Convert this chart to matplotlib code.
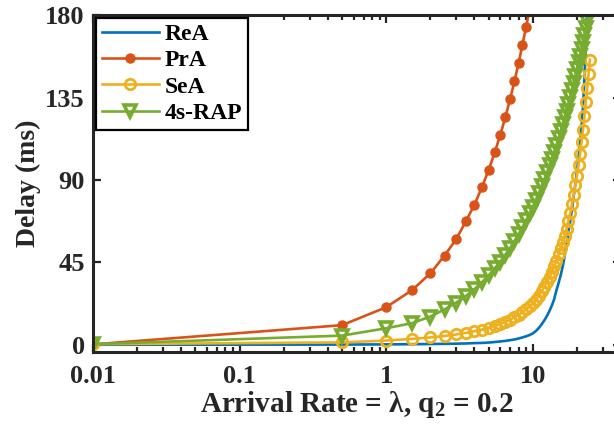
import numpy as np
import matplotlib
matplotlib.use("Agg")
import matplotlib.pyplot as plt
from matplotlib.ticker import FixedLocator, FixedFormatter, LogLocator, NullFormatter

plt.rcParams['font.family'] = ['Liberation Serif', 'DejaVu Serif']
plt.rcParams['font.weight'] = 'bold'
plt.rcParams['mathtext.fontset'] = 'custom'
plt.rcParams['mathtext.rm'] = 'Liberation Serif:bold'
plt.rcParams['mathtext.bf'] = 'Liberation Serif:bold'
plt.rcParams['mathtext.it'] = 'Liberation Serif:bold:italic'

# arrival rates (same 0.5 grid for all schemes, first point at 0.01)
lam_rea = [0.01, 0.5, 1, 1.5, 2, 2.5, 3, 3.5, 4, 4.5, 5, 5.5, 6, 6.5, 7, 7.5, 8, 8.5,
           9, 9.5, 10, 10.5, 11, 11.5, 12, 12.5, 13, 13.5, 14, 14.5, 15, 15.5, 16,
           16.5, 17, 17.5, 18, 18.5, 19, 19.5, 20, 20.5, 21, 21.5, 22, 22.5, 23, 23.5]
delay_rea = [0.0, 0.1, 0.2, 0.3, 0.4, 0.5, 0.6, 0.7, 0.9, 1.0, 1.2, 1.5, 1.8, 2.1, 2.5,
             2.9, 3.4, 4.0, 4.6, 5.3, 6.2, 7.5, 9.2, 11.2, 13.4, 15.8, 18.5, 21.5, 25.0,
             29.8, 33.8, 38.0, 42.8, 48.5, 55.0, 61.5, 67.5, 74.0, 81.0, 87.5, 94.5,
             102.0, 110.0, 119.0, 130.0, 145.0, 164.0, 188.0]

lam_pra = [0.01, 0.5, 1, 1.5, 2, 2.5, 3, 3.5, 4, 4.5, 5, 5.5, 6, 6.5, 7, 7.5, 8, 8.5,
           9, 9.5]
delay_pra = [0.2, 10.7, 20.5, 29.8, 39.0, 48.7, 57.6, 67.5, 76.5, 86.0, 95.5, 105.0,
             114.6, 124.3, 134.1, 144.0, 153.8, 163.9, 173.5, 183.0]

lam_sea = [0.01, 0.5, 1, 1.5, 2, 2.5, 3, 3.5, 4, 4.5, 5, 5.5, 6, 6.5, 7, 7.5, 8, 8.5,
           9, 9.5, 10, 10.5, 11, 11.5, 12, 12.5, 13, 13.5, 14, 14.5, 15, 15.5, 16,
           16.5, 17, 17.5, 18, 18.5, 19, 19.5, 20, 20.5, 21, 21.5, 22, 22.5, 23, 23.5,
           24, 24.5]
delay_sea = [0.3, 1.3, 2.3, 3.2, 4.0, 4.8, 5.6, 6.5, 7.4, 8.3, 9.3, 10.3, 11.4, 12.5,
             13.7, 15.0, 16.4, 17.9, 19.4, 21.0, 22.7, 24.6, 26.8, 29.2, 31.8, 34.4,
             37.0, 39.8, 42.8, 46.0, 49.3, 52.6, 56.0, 59.6, 63.4, 67.5, 72.0, 76.8,
             81.8, 87.0, 92.4, 98.0, 104.0, 110.5, 117.5, 124.8, 132.4, 140.0, 147.8,
             155.7]

lam_rap = [0.01, 0.5, 1, 1.5, 2, 2.5, 3, 3.5, 4, 4.5, 5, 5.5, 6, 6.5, 7, 7.5, 8, 8.5,
           9, 9.5, 10, 10.5, 11, 11.5, 12, 12.5, 13, 13.5, 14, 14.5, 15, 15.5, 16,
           16.5, 17, 17.5, 18, 18.5, 19, 19.5, 20, 20.5, 21, 21.5, 22, 22.5, 23, 23.5,
           24]
delay_rap = [0.3, 5.0, 9.0, 11.8, 15.4, 19.3, 23.0, 26.7, 30.4, 34.2, 37.9, 41.7, 45.4,
             49.2, 52.9, 56.7, 60.4, 64.2, 67.9, 71.7, 75.4, 79.2, 82.9, 86.7, 90.4,
             94.2, 97.9, 101.7, 105.4, 109.2, 112.9, 116.7, 120.4, 124.2, 127.9, 131.7,
             135.4, 139.2, 142.9, 146.7, 150.4, 154.2, 157.9, 161.7, 165.4, 169.2,
             172.9, 176.7, 180.4]

x_ticks = [0.01, 0.1, 1, 10]
x_labels = ['0.01', '0.1', '1', '10']
y_ticks = [0, 45, 90, 135, 180]

blue, red, yellow, green = '#0072BD', '#D95319', '#EDB120', '#77AC30'
axcol = '#262626'

fig = plt.figure(figsize=(6.14, 4.32), dpi=100)
ax = fig.add_axes([0.1515, 0.185, 0.86, 0.78])

ax.plot(lam_rea, delay_rea, color=blue, lw=1.9, label='ReA')
ax.plot(lam_pra, delay_pra, color=red, lw=1.9, marker='o', ms=6.5, mfc=red, mec=red,
        label='PrA')
ax.plot(lam_sea, delay_sea, color=yellow, lw=1.9, marker='o', ms=7.5, mfc='none',
        mec=yellow, mew=2.0, label='SeA')
ax.plot(lam_rap, delay_rap, color=green, lw=1.9, marker='v', ms=9, mfc='none',
        mec=green, mew=2.6, label='4s-RAP')

ax.set_xscale('log')
ax.set_xlim(0.01, 40)
ax.set_ylim(-4, 180)
ax.xaxis.set_major_locator(FixedLocator(x_ticks))
ax.xaxis.set_major_formatter(FixedFormatter(x_labels))
ax.xaxis.set_minor_locator(LogLocator(base=10, subs=np.arange(2, 10), numticks=20))
ax.xaxis.set_minor_formatter(NullFormatter())
ax.set_yticks(y_ticks)

for s in ax.spines.values():
    s.set_linewidth(2.2)
    s.set_color(axcol)
ax.tick_params(which='both', direction='in', top=True, right=True, colors=axcol,
               labelsize=19, width=1.6)
ax.tick_params(axis='x', pad=9)
ax.tick_params(axis='y', pad=6)
ax.tick_params(which='major', length=6)
ax.tick_params(which='minor', length=3.5)
for lbl in ax.get_xticklabels() + ax.get_yticklabels():
    lbl.set_fontweight('bold')

ax.set_xlabel(r'Arrival Rate = λ, q$_{\mathregular{2}}$ = 0.2', fontsize=21,
              fontweight='bold', color=axcol, labelpad=1)
ax.set_ylabel('Delay (ms)', fontsize=20, fontweight='bold', color=axcol, labelpad=3)

leg = ax.legend(loc='upper left', bbox_to_anchor=(0.006, 0.992), borderaxespad=0,
                fontsize=17, frameon=True, fancybox=False, framealpha=1,
                edgecolor='black', handlelength=2.4, handletextpad=0.25,
                labelspacing=0.2, borderpad=0.25)
leg.get_frame().set_linewidth(1.6)
for t in leg.get_texts():
    t.set_fontweight('bold')

fig.savefig('out.png', dpi=100, facecolor='white')
